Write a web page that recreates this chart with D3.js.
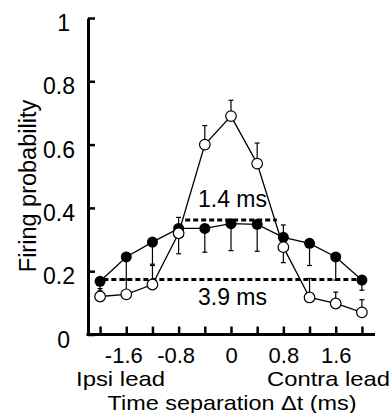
<!DOCTYPE html>
<html>
<head>
<meta charset="utf-8">
<script src="https://cdn.jsdelivr.net/npm/d3@7"></script>
<style>
  html, body { margin: 0; padding: 0; background: #fff; }
  text { font-family: "Liberation Sans", Arial, Helvetica, sans-serif; fill: #000; }
</style>
</head>
<body>
<svg id="chart" width="392" height="413"></svg>
<script>
// ---- data ----
const timeSep = [-2.0, -1.6, -1.2, -0.8, -0.4, 0, 0.4, 0.8, 1.2, 1.6, 2.0];
const openVals   = [0.12, 0.127, 0.158, 0.32, 0.60, 0.69, 0.54, 0.276, 0.117, 0.098, 0.07];
const openErrUp  = [0.025, 0.045, 0.06, 0.05, 0.06, 0.05, 0.065, 0.07, 0.06, 0.036, 0.04];
const filledVals = [0.168, 0.245, 0.292, 0.335, 0.335, 0.35, 0.348, 0.307, 0.288, 0.245, 0.172];
const filledErrDown = [0.03, 0.07, 0.07, 0.08, 0.075, 0.085, 0.085, 0.08, 0.07, 0.073, 0.032];
const yTicks = [0, 0.2, 0.4, 0.6, 0.8, 1];
const xTickLabels = [-1.6, -0.8, 0, 0.8, 1.6];
const halfWidths = [1.4, 3.9];          // ms
const halfLevels = [0.362, 0.174];      // firing probability of dashed lines
const halfLabels = ["1.4 ms", "3.9 ms"];
const halfLabelY = [0.403, 0.093];

// ---- layout ----
const svg = d3.select("#chart");
const frame = { left: 88, right: 375, top: 18, bottom: 334.5 };
const x = d3.scaleLinear().domain([-2.2, 2.2]).range([87, 375]);
const y = d3.scaleLinear().domain([0, 1]).range([frame.bottom, frame.top]);
const FS = 23;
const fmt = d => String(+(+d).toFixed(1));   // plain hyphen-minus

// ---- axes ----
const yAxis = d3.axisLeft(y).tickValues(yTicks).tickFormat(fmt)
  .tickSizeInner(-7).tickSizeOuter(0).tickPadding(13);
const gy = svg.append("g").attr("transform", `translate(${frame.left},0)`).call(yAxis);
gy.select(".domain").attr("stroke", "#000").attr("stroke-width", 3);
gy.selectAll(".tick line").attr("stroke", "#000").attr("stroke-width", 2.5);
gy.selectAll(".tick text")
  .attr("font-size", FS).attr("font-family", null)
  .attr("dy", "0.55em")
  .attr("x", d => (d % 1 === 0 ? -18 : -13));

const isLabelled = d => xTickLabels.some(v => Math.abs(v - d) < 1e-9);
const xAxis = d3.axisBottom(x).tickValues(timeSep)
  .tickFormat(d => isLabelled(d) ? fmt(d) : "")
  .tickSizeInner(-8).tickSizeOuter(0).tickPadding(12.4);
const gx = svg.append("g").attr("transform", `translate(0,${frame.bottom})`).call(xAxis);
gx.select(".domain").remove();
gx.selectAll(".tick line").attr("stroke", "#000").attr("stroke-width", 2.5);
gx.selectAll(".tick text").filter(d => !isLabelled(d)).remove();
gx.selectAll(".tick text")
  .attr("font-size", 22).attr("font-family", null)
  .attr("dx", d => (d < 0 ? -3 : 0));
svg.append("line")
  .attr("x1", frame.left - 1.5).attr("x2", frame.right)
  .attr("y1", frame.bottom).attr("y2", frame.bottom)
  .attr("stroke", "#000").attr("stroke-width", 3);

// ---- axis titles ----
svg.append("text").attr("transform", "rotate(-90)")
  .attr("x", -186).attr("y", 36).attr("text-anchor", "middle")
  .attr("font-size", 23.5).text("Firing probability");
svg.append("text").attr("x", 232).attr("y", 409.5).attr("text-anchor", "middle")
  .attr("font-size", 21).attr("textLength", 249).attr("lengthAdjust", "spacingAndGlyphs")
  .text("Time separation Δt (ms)");
svg.append("text").attr("x", 76).attr("y", 385.8).attr("text-anchor", "start")
  .attr("font-size", 21).attr("textLength", 89).attr("lengthAdjust", "spacingAndGlyphs")
  .text("Ipsi lead");
svg.append("text").attr("x", 390).attr("y", 385.8).attr("text-anchor", "end")
  .attr("font-size", 21).attr("textLength", 123).attr("lengthAdjust", "spacingAndGlyphs")
  .text("Contra lead");

// ---- half-width dashed lines ----
halfWidths.forEach((w, i) => {
  svg.append("line")
    .attr("x1", x(-w / 2)).attr("x2", x(w / 2))
    .attr("y1", y(halfLevels[i])).attr("y2", y(halfLevels[i]))
    .attr("stroke", "#000").attr("stroke-width", 3)
    .attr("stroke-dasharray", "5,3");
  svg.append("text").attr("x", x(0) + 1.5).attr("y", y(halfLabelY[i]))
    .attr("text-anchor", "middle").attr("font-size", FS).text(halfLabels[i]);
});

// ---- lines ----
const line = d3.line().x(d => x(d[0])).y(d => y(d[1]));
const filledPts = timeSep.map((t, i) => [t, filledVals[i]]);
const openPts = timeSep.map((t, i) => [t, openVals[i]]);
svg.append("path").attr("d", line(filledPts)).attr("fill", "none")
  .attr("stroke", "#000").attr("stroke-width", 1.3);
svg.append("path").attr("d", line(openPts)).attr("fill", "none")
  .attr("stroke", "#000").attr("stroke-width", 1.3);

// ---- error bars ----
function errBar(t, v0, v1) {
  const g = svg.append("g").attr("stroke", "#000").attr("stroke-width", 1.2);
  g.append("line").attr("x1", x(t)).attr("x2", x(t)).attr("y1", y(v0)).attr("y2", y(v1));
  g.append("line").attr("x1", x(t) - 2.5).attr("x2", x(t) + 2.5).attr("y1", y(v1)).attr("y2", y(v1));
}
timeSep.forEach((t, i) => {
  errBar(t, filledVals[i], filledVals[i] - filledErrDown[i]);
  errBar(t, openVals[i], openVals[i] + openErrUp[i]);
});

// ---- markers ----
svg.append("g").selectAll("circle").data(filledPts).join("circle")
  .attr("cx", d => x(d[0])).attr("cy", d => y(d[1])).attr("r", 5.5)
  .attr("fill", "#000");
svg.append("g").selectAll("circle").data(openPts).join("circle")
  .attr("cx", d => x(d[0])).attr("cy", d => y(d[1])).attr("r", 5.3)
  .attr("fill", "#fff").attr("stroke", "#000").attr("stroke-width", 1.2);
</script>
</body>
</html>
